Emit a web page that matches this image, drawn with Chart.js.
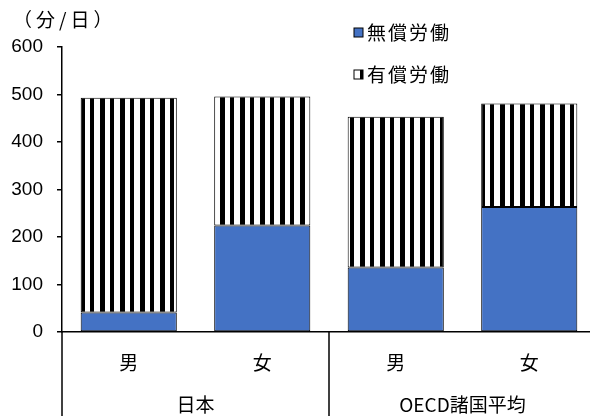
<!DOCTYPE html>
<html>
<head>
<meta charset="utf-8">
<script src="https://cdn.jsdelivr.net/npm/chart.js@4.4.1/dist/chart.umd.min.js"></script>
<style>
  html, body { margin: 0; padding: 0; background: #fff; overflow: hidden; width: 590px; height: 416px; }
  #wrap { position: relative; width: 596px; height: 416px; }
</style>
</head>
<body>
<div id="wrap"><canvas id="c" width="596" height="416"></canvas></div>
<script>
// Minutes per day spent on unpaid and paid work, by sex
const genders = ['男', '女', '男', '女'];
const regions = ['日本', 'OECD諸国平均'];
const unpaidMinutes = [41, 224, 136, 263];
const paidMinutes = [452, 272, 317, 218];
const yTicks = [0, 100, 200, 300, 400, 500, 600];
const seriesNames = ['無償労働', '有償労働'];
const unitLabel = '（分/日）';

const BLUE = '#4472C4';
const CJK = '"Noto Sans CJK JP", "Noto Sans", sans-serif';
const NUM = '"Liberation Sans", Arial, sans-serif';

const canvas = document.getElementById('c');
const ctx = canvas.getContext('2d');

// vertical black/white stripe fill for the paid-work segments
function makeStripes() {
  const tile = document.createElement('canvas');
  tile.width = 20; tile.height = 10;
  const g = tile.getContext('2d');
  g.fillStyle = '#fff'; g.fillRect(0, 0, 20, 10);
  g.fillStyle = '#000';
  g.fillRect(0, 0, 5, 10);
  g.fillRect(10, 0, 4, 10);
  return ctx.createPattern(tile, 'repeat');
}
const stripes = makeStripes();

// region labels under each pair of bars, with separators
const groupAxis = {
  id: 'groupAxis',
  afterDraw(chart) {
    const { ctx, chartArea } = chart;
    const x = chart.scales.x;
    const H = chart.height;
    ctx.save();
    ctx.strokeStyle = '#000';
    ctx.lineWidth = 1.5;
    const mid = (x.getPixelForValue(1) + x.getPixelForValue(2)) / 2;
    [x.left, mid, x.right].forEach(px => {
      ctx.beginPath();
      ctx.moveTo(px, chartArea.bottom);
      ctx.lineTo(px, H);
      ctx.stroke();
    });
    ctx.fillStyle = '#000';
    ctx.font = '19px ' + CJK;
    ctx.textAlign = 'center';
    ctx.textBaseline = 'middle';
    regions.forEach((name, i) => {
      const cx = (x.getPixelForValue(2 * i) + x.getPixelForValue(2 * i + 1)) / 2;
      ctx.fillText(name, cx, 405);
    });
    // unit label above the value axis
    ctx.textAlign = 'left';
    ctx.font = '19px ' + CJK;
    if ('letterSpacing' in ctx) ctx.letterSpacing = '4px';
    ctx.fillText(unitLabel, 13, 20);
    ctx.restore();
  }
};

// legend drawn inside the plot, top right
const sideLegend = {
  id: 'sideLegend',
  afterDraw(chart) {
    const { ctx } = chart;
    const rows = [
      { text: seriesNames[0], fill: BLUE, y: 33 },
      { text: seriesNames[1], fill: stripes, y: 75 }
    ];
    ctx.save();
    ctx.font = '19px ' + CJK;
    ctx.textBaseline = 'middle';
    ctx.textAlign = 'left';
    if ('letterSpacing' in ctx) ctx.letterSpacing = '2px';
    rows.forEach(r => {
      ctx.fillStyle = r.fill;
      ctx.fillRect(354, r.y - 5, 9, 9);
      ctx.strokeStyle = '#000';
      ctx.lineWidth = 1;
      ctx.strokeRect(354, r.y - 5, 9, 9);
      ctx.fillStyle = '#000';
      ctx.fillText(r.text, 367, r.y);
    });
    ctx.restore();
  }
};

new Chart(ctx, {
  type: 'bar',
  data: {
    labels: genders,
    datasets: [
      { label: seriesNames[0], data: unpaidMinutes, backgroundColor: BLUE,
        borderColor: '#000', borderWidth: 1, borderSkipped: false },
      { label: seriesNames[1], data: paidMinutes, backgroundColor: stripes,
        borderColor: '#000', borderWidth: 1, borderSkipped: false }
    ]
  },
  options: {
    responsive: false,
    animation: false,
    devicePixelRatio: 1,
    layout: { padding: { top: 47, right: 0, bottom: 0, left: 0 } },
    datasets: { bar: { categoryPercentage: 1, barPercentage: 0.72 } },
    plugins: { legend: { display: false }, tooltip: { enabled: false } },
    scales: {
      x: {
        stacked: true,
        grid: { display: true, drawOnChartArea: false, drawTicks: false },
        border: { display: true, color: '#000', width: 1.5 },
        ticks: { color: '#000', font: { family: CJK, size: 19 }, padding: 19, maxRotation: 0 },
        afterFit(s) { s.height = 84; }
      },
      y: {
        stacked: true,
        min: yTicks[0],
        max: yTicks[yTicks.length - 1],
        afterBuildTicks(s) { s.ticks = yTicks.map(v => ({ value: v })); },
        grid: { drawOnChartArea: false, drawTicks: true, tickLength: 5, color: '#000', lineWidth: 1.5 },
        border: { display: true, color: '#000', width: 1.5 },
        ticks: { color: '#000', font: { family: NUM, size: 19 }, padding: 14 },
        afterFit(s) { s.width = 62; }
      }
    }
  },
  plugins: [groupAxis, sideLegend]
});
</script>
</body>
</html>
